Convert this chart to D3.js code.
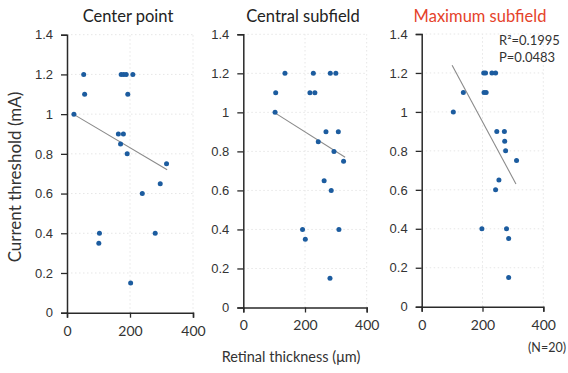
<!DOCTYPE html>
<html><head><meta charset="utf-8">
<script src="https://cdn.jsdelivr.net/npm/d3@7"></script>
<style>
html,body{margin:0;padding:0;background:#fff;}
svg{display:block;}
</style></head>
<body>
<svg id="chart" width="568" height="373"></svg>
<script>
// ---- data ----
const categories = ["Center point", "Central subfield", "Maximum subfield"];
const thicknessCenter = [22,53,172,180,188,209,56,193,163,179,170,191,316,296,239,103,280,101,202];
const thresholdCenter = [1.0,1.2,1.2,1.2,1.2,1.2,1.1,1.1,0.9,0.9,0.85,0.8,0.75,0.65,0.6,0.4,0.4,0.35,0.15];
const thicknessCentral = [135,227,282,300,105,216,232,103,268,308,243,294,325,262,285,192,310,201,281];
const thresholdCentral = [1.2,1.2,1.2,1.2,1.1,1.1,1.1,1.0,0.9,0.9,0.85,0.8,0.75,0.65,0.6,0.4,0.4,0.35,0.15];
const thicknessMaximum = [204,210,231,243,137,205,212,104,247,272,273,276,312,254,243,198,279,286,286];
const thresholdMaximum = [1.2,1.2,1.2,1.2,1.1,1.1,1.1,1.0,0.9,0.9,0.85,0.8,0.75,0.65,0.6,0.4,0.4,0.35,0.15];
const fitCenterX = [20, 318], fitCenterY = [1.0, 0.72];
const fitCentralX = [100, 330], fitCentralY = [1.0, 0.77];
const fitMaximumX = [100, 310], fitMaximumY = [1.24, 0.63];
const xTickValues = [0, 200, 400];
const xTickLabels = ["0", "200", "400"];
const yTickValues = [0, 0.2, 0.4, 0.6, 0.8, 1.0, 1.2, 1.4];
const yTickLabels = ["0", "0.2", "0.4", "0.6", "0.8", "1", "1.2", "1.4"];
const statsLabels = ["R\u00B2=0.1995", "P=0.0483"];

// ---- layout ----
const layout = [
  {x:[67,193], y:[312.7,34.7], titleX:128, titleColor:"#222"},
  {x:[243.3,366.7], y:[307.5,34.3], titleX:303, titleColor:"#222"},
  {x:[421.7,543.3], y:[306.7,34], titleX:480, titleColor:"#e5432b"}
];
const seriesX = [thicknessCenter, thicknessCentral, thicknessMaximum];
const seriesY = [thresholdCenter, thresholdCentral, thresholdMaximum];
const fitsX = [fitCenterX, fitCentralX, fitMaximumX];
const fitsY = [fitCenterY, fitCentralY, fitMaximumY];

const svg = d3.select("#chart");
const dotColor = "#1c5c9f";
const gridColor = "#e6e6e6";

categories.forEach((cat, i) => {
  const L = layout[i];
  const x = d3.scaleLinear().domain([0, 400]).range(L.x);
  const y = d3.scaleLinear().domain([0, 1.4]).range(L.y);
  const g = svg.append("g");

  // grid
  g.selectAll(".hg").data(yTickValues.slice(1)).enter().append("line")
    .attr("x1", L.x[0]).attr("x2", L.x[1])
    .attr("y1", d => y(d)).attr("y2", d => y(d))
    .attr("stroke", gridColor).attr("stroke-width", 1).attr("stroke-dasharray", "1.5,2.5");
  g.selectAll(".vg").data(xTickValues.slice(1)).enter().append("line")
    .attr("x1", d => x(d)).attr("x2", d => x(d))
    .attr("y1", L.y[0]).attr("y2", L.y[1])
    .attr("stroke", gridColor).attr("stroke-width", 1).attr("stroke-dasharray", "1.5,2.5");

  // axes
  const yAxis = d3.axisLeft(y).tickValues(yTickValues)
    .tickFormat((d, k) => yTickLabels[k]).tickSize(6).tickPadding(8);
  const ya = g.append("g").attr("transform", `translate(${L.x[0]},0)`).call(yAxis);
  ya.select(".domain").attr("stroke", "#2a2a2a").attr("stroke-width", 1.5);
  ya.selectAll(".tick line").attr("stroke", "#2a2a2a").attr("stroke-width", 1.3);
  ya.selectAll(".tick text").attr("font-family", "'Liberation Sans', Arial, sans-serif")
    .attr("font-size", 13).attr("fill", "#333");

  const xAxis = d3.axisBottom(x).tickValues(xTickValues)
    .tickFormat((d, k) => xTickLabels[k]).tickSize(5).tickPadding(8);
  const xa = g.append("g").attr("transform", `translate(0,${L.y[0]})`).call(xAxis);
  xa.select(".domain").attr("stroke", "#2a2a2a").attr("stroke-width", 1.5);
  xa.selectAll(".tick line").attr("stroke", "#2a2a2a").attr("stroke-width", 1.3);
  xa.selectAll(".tick text").attr("font-family", "Lato, sans-serif")
    .attr("font-size", 14).attr("fill", "#333");

  // fit line
  const fitData = fitsX[i].map((v, k) => [v, fitsY[i][k]]);
  g.append("path").datum(fitData)
    .attr("d", d3.line().x(d => x(d[0])).y(d => y(d[1])))
    .attr("fill", "none").attr("stroke", "#8a8a8a").attr("stroke-width", 1.1);

  // points
  const pts = seriesX[i].map((v, k) => [v, seriesY[i][k]]);
  g.selectAll(".pt").data(pts).enter().append("circle")
    .attr("cx", d => x(d[0])).attr("cy", d => y(d[1])).attr("r", 2.5)
    .attr("fill", dotColor);

  // title
  svg.append("text").attr("x", L.titleX).attr("y", 22)
    .attr("text-anchor", "middle").attr("font-family", "Lato, sans-serif")
    .attr("font-size", 16.5).attr("fill", L.titleColor).text(cat);
});

// stats text
svg.selectAll(".stat").data(statsLabels).enter().append("text")
  .attr("x", 499).attr("y", (d, k) => 45 + k * 17)
  .attr("font-family", "Lato, sans-serif").attr("font-size", 13).attr("fill", "#333")
  .text(d => d);

// axis titles
svg.append("text").attr("transform", "translate(21,177) rotate(-90)")
  .attr("text-anchor", "middle").attr("font-family", "Lato, sans-serif")
  .attr("font-size", 17).attr("fill", "#333").text("Current threshold (mA)");
svg.append("text").attr("x", 291).attr("y", 362)
  .attr("text-anchor", "middle").attr("font-family", "Lato, sans-serif")
  .attr("font-size", 14.5).attr("fill", "#333").text("Retinal thickness (\u03BCm)");
svg.append("text").attr("x", 547).attr("y", 352)
  .attr("text-anchor", "middle").attr("font-family", "Lato, sans-serif")
  .attr("font-size", 12.5).attr("fill", "#333").text("(N=20)");
</script>
</body></html>
